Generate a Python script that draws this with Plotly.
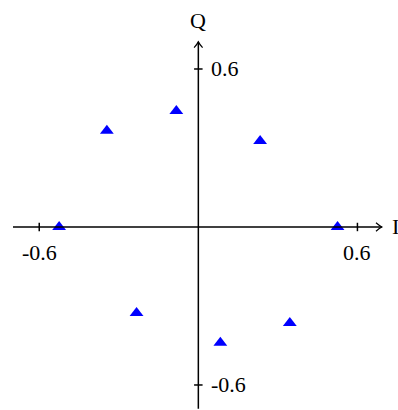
import plotly.graph_objects as go

# Constellation points (in-phase / quadrature)
i_vals = [-0.525, -0.345, -0.083, 0.233, 0.525, 0.345, 0.083, -0.233]
q_vals = [0.0, 0.365, 0.440, 0.327, 0.0, -0.365, -0.440, -0.327]

tick_vals = [-0.6, 0.6]
tick_text = ["-0.6", "0.6"]

# Axis extents (data units)
x_range = [-0.748, 0.753]
y_range = [-0.695, 0.862]
x_line = [-0.699, 0.692]
y_line = [-0.690, 0.703]

font = dict(family="Liberation Serif", size=22, color="black")

fig = go.Figure()
fig.add_trace(go.Scatter(
    x=i_vals, y=q_vals, mode="markers",
    marker=dict(symbol="triangle-up", size=12, color="rgb(0,0,255)",
                line=dict(width=0)),
    hoverinfo="skip", showlegend=False,
))

shapes = []
lw = dict(color="black", width=1.5)
# axis lines
shapes.append(dict(type="line", xref="x", yref="y", x0=x_line[0], y0=0,
                   x1=x_line[1], y1=0, line=lw))
shapes.append(dict(type="line", xref="x", yref="y", x0=0, y0=y_line[0],
                   x1=0, y1=y_line[1], line=lw))
# arrow heads
ax_, ay_ = 0.022, 0.016
shapes.append(dict(type="path", xref="x", yref="y",
                   path=f"M {x_line[1]-ax_},{ay_} Q {x_line[1]-0.008},{0.004} {x_line[1]},0 "
                        f"Q {x_line[1]-0.008},{-0.004} {x_line[1]-ax_},{-ay_}",
                   line=dict(color="black", width=1.2)))
shapes.append(dict(type="path", xref="x", yref="y",
                   path=f"M {-ay_},{y_line[1]-ax_} Q {-0.004},{y_line[1]-0.008} 0,{y_line[1]} "
                        f"Q {0.004},{y_line[1]-0.008} {ay_},{y_line[1]-ax_}",
                   line=dict(color="black", width=1.2)))
# ticks
tk = 0.016
for v in tick_vals:
    shapes.append(dict(type="line", xref="x", yref="y", x0=v, y0=-tk, x1=v, y1=tk, line=lw))
    shapes.append(dict(type="line", xref="x", yref="y", x0=-tk, y0=v, x1=tk, y1=v, line=lw))

annotations = []
for v, t in zip(tick_vals, tick_text):
    annotations.append(dict(x=v, y=0, xref="x", yref="y", text=t, showarrow=False,
                            yanchor="middle", yshift=-26, font=font))
    annotations.append(dict(x=0, y=v, xref="x", yref="y", text=t, showarrow=False,
                            xanchor="left", yanchor="middle", xshift=11, font=font))
annotations.append(dict(x=x_line[1], y=0, xref="x", yref="y", text="I", showarrow=False,
                        xanchor="left", yanchor="middle", xshift=8, font=font))
annotations.append(dict(x=0, y=y_line[1], xref="x", yref="y", text="Q", showarrow=False,
                        yanchor="middle", yshift=21, font=font))

fig.update_layout(
    width=398, height=410,
    margin=dict(l=0, r=0, t=0, b=0),
    paper_bgcolor="white", plot_bgcolor="white",
    xaxis=dict(range=x_range, visible=False, fixedrange=True),
    yaxis=dict(range=y_range, visible=False, fixedrange=True),
    shapes=shapes, annotations=annotations,
)

fig.write_html("out.html")
